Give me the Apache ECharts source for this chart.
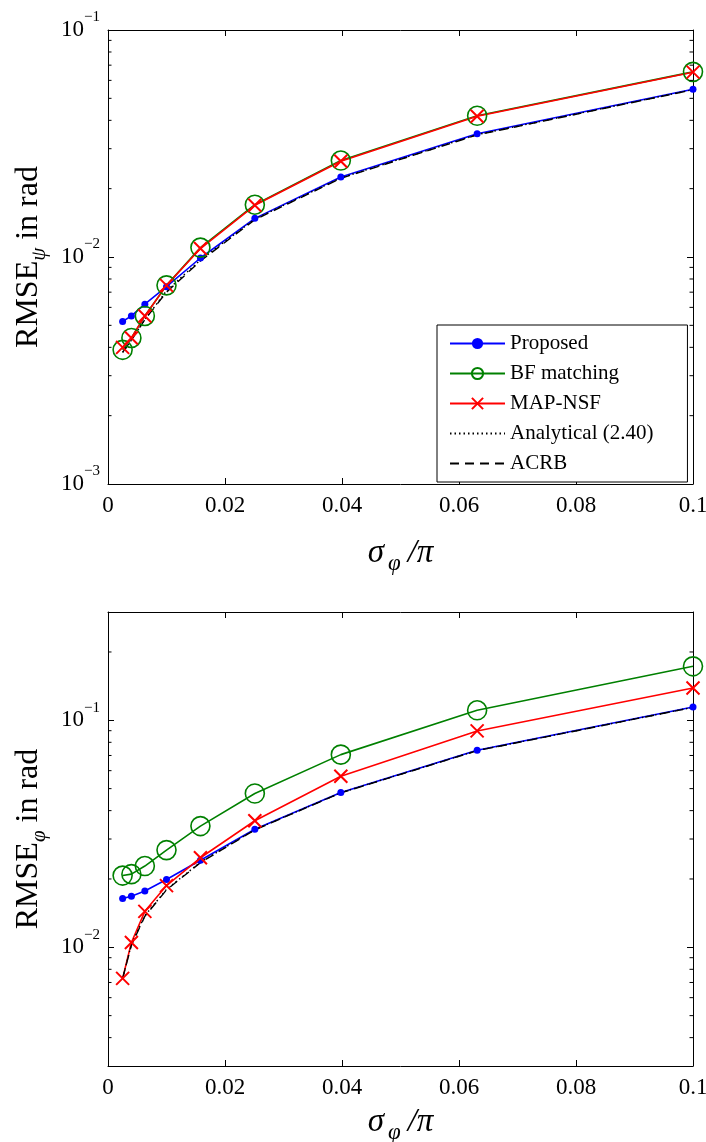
<!DOCTYPE html>
<html>
<head>
<meta charset="utf-8">
<script src="https://cdn.jsdelivr.net/npm/echarts@6/dist/echarts.min.js"></script>
<style>html,body{margin:0;padding:0;background:#fff}#c{width:706px;height:1142px}</style>
</head>
<body>
<div id="c"></div>
<script>
// sigma_phi / pi
const xs = [0.0025, 0.004, 0.0063, 0.01, 0.0158, 0.0251, 0.0398, 0.0631, 0.1];
const xTicks = [0, 0.02, 0.04, 0.06, 0.08, 0.1];
const seriesNames = ['Proposed', 'BF matching', 'MAP-NSF', 'Analytical (2.40)', 'ACRB'];

// top: RMSE_psi
const proposedPsi   = [0.0052, 0.0055, 0.0062, 0.0074, 0.0099, 0.0148, 0.0225, 0.0349, 0.0548];
const bfPsi         = [0.0039, 0.0044, 0.0055, 0.0075, 0.0110, 0.0170, 0.0266, 0.0419, 0.0654];
const mapPsi        = [0.0040, 0.0044, 0.0055, 0.0075, 0.0109, 0.0169, 0.0264, 0.0417, 0.0652];
const analyticalPsi = [0.0038, 0.0043, 0.0053, 0.0071, 0.0097, 0.0147, 0.0223, 0.0346, 0.0546];
const acrbPsi       = [0.0038, 0.0043, 0.0053, 0.0070, 0.0096, 0.0146, 0.0222, 0.0345, 0.0545];

// bottom: RMSE_phi
const proposedPhi   = [0.0164, 0.0168, 0.0177, 0.0199, 0.0242, 0.0331, 0.0481, 0.0738, 0.1144];
const bfPhi         = [0.0207, 0.0210, 0.0228, 0.0268, 0.0342, 0.0476, 0.0706, 0.1107, 0.1729];
const mapPhi        = [0.0073, 0.0105, 0.0144, 0.0187, 0.0248, 0.0361, 0.0567, 0.0898, 0.1387];
const analyticalPhi = [0.0073, 0.0103, 0.0138, 0.0180, 0.0237, 0.0330, 0.0480, 0.0736, 0.1141];
const acrbPhi       = [0.0073, 0.0102, 0.0137, 0.0179, 0.0236, 0.0329, 0.0479, 0.0735, 0.1140];

// y ranges and tick values
const yRangeTop = [0.001, 0.1];
const yRangeBot = [0.003, 0.3];
const minorTop = [0.002,0.003,0.004,0.005,0.006,0.007,0.008,0.009,0.02,0.03,0.04,0.05,0.06,0.07,0.08,0.09];
const minorBot = [0.004,0.005,0.006,0.007,0.008,0.009,0.02,0.03,0.04,0.05,0.06,0.07,0.08,0.09,0.2];

const SERIF = '"Liberation Serif", "Times New Roman", serif';
const pairs = ys => xs.map((x, i) => [x, ys[i]]);

function expLabel(v) {
  const e = Math.round(Math.log10(v));
  if (Math.abs(Math.log10(v) - e) > 1e-6) return '';
  return '{b|10}{s|' + (e < 0 ? '\u2212' + (-e) : e) + '}';
}
const expRich = {
  b: { fontFamily: SERIF, fontSize: 23, color: '#000', lineHeight: 40, verticalAlign: 'middle' },
  s: { fontFamily: SERIF, fontSize: 15, color: '#000', lineHeight: 20, verticalAlign: 'top' }
};
const TICK = { inside: true, length: 6, lineStyle: { color: '#000', width: 1 } };
const LINE = { onZero: false, lineStyle: { color: '#000', width: 1 } };

function xAxes(gi, gap) {
  return [{
    type: 'value', gridIndex: gi, position: 'bottom', min: 0, max: 0.1, interval: 0.02,
    axisLine: LINE, axisTick: TICK,
    axisLabel: { color: '#000', fontFamily: SERIF, fontSize: 23, margin: 10,
                 formatter: v => (Math.round(v * 100) / 100).toString() },
    splitLine: { show: false },
    name: '{i|\u03c3}{s|\u03c6}{i|/\u03c0}', nameLocation: 'middle', nameGap: gap,
    nameTextStyle: { rich: {
      i: { fontFamily: SERIF, fontStyle: 'italic', fontSize: 33, color: '#000', lineHeight: 44, verticalAlign: 'middle', padding: [0, 3, 0, 3] },
      s: { fontFamily: SERIF, fontStyle: 'italic', fontSize: 23, color: '#000', lineHeight: 32, verticalAlign: 'bottom', padding: [0, 4, 0, 1] }
    } }
  }, {
    type: 'value', gridIndex: gi, position: 'top', min: 0, max: 0.1, interval: 0.02,
    axisLine: LINE, axisTick: TICK,
    axisLabel: { show: false }, splitLine: { show: false }
  }];
}
function yAxes(gi, range, sub) {
  return [{
    type: 'log', logBase: 10, gridIndex: gi, position: 'left', min: range[0], max: range[1],
    axisLine: LINE, axisTick: TICK,
    axisLabel: { formatter: expLabel, rich: expRich, margin: 8, showMinLabel: true, showMaxLabel: true },
    splitLine: { show: false },
    name: '{a|RMSE}{s|' + sub + '}{a| in rad}', nameLocation: 'middle', nameGap: 57, nameRotate: 90,
    nameTextStyle: { rich: {
      a: { fontFamily: SERIF, fontSize: 32, color: '#000', lineHeight: 44, verticalAlign: 'middle' },
      s: { fontFamily: SERIF, fontStyle: 'italic', fontSize: 21, color: '#000', lineHeight: 32, verticalAlign: 'bottom' }
    } }
  }, {
    type: 'log', logBase: 10, gridIndex: gi, position: 'right', min: range[0], max: range[1],
    axisLine: LINE, axisTick: TICK,
    axisLabel: { show: false }, splitLine: { show: false }
  }];
}

function minorTickSeries(gi, vals) {
  return {
    type: 'custom', xAxisIndex: gi * 2, yAxisIndex: gi * 2, silent: true, z: 5,
    data: vals.map(v => [0, v]),
    renderItem: (params, api) => {
      const p = api.coord([0, api.value(1)]);
      const cs = params.coordSys;
      const st = { stroke: '#000', lineWidth: 1 };
      return { type: 'group', children: [
        { type: 'line', shape: { x1: cs.x, y1: p[1], x2: cs.x + 3.5, y2: p[1] }, style: st },
        { type: 'line', shape: { x1: cs.x + cs.width - 3.5, y1: p[1], x2: cs.x + cs.width, y2: p[1] }, style: st }
      ] };
    }
  };
}

function dataSeries(gi, sets) {
  const base = { type: 'line', xAxisIndex: gi * 2, yAxisIndex: gi * 2, animation: false, z: 3 };
  const none = { color: 'rgba(0,0,0,0)', borderColor: 'rgba(0,0,0,0)', borderWidth: 0 };
  return [
    Object.assign({}, base, { name: seriesNames[0], data: pairs(sets[0]),
      symbol: 'circle', symbolSize: 7, itemStyle: { color: '#0000ff' },
      lineStyle: { color: '#0000ff', width: 1.6 } }),
    Object.assign({}, base, { name: seriesNames[1], data: pairs(sets[1]),
      symbol: 'circle', symbolSize: 19, itemStyle: { color: 'rgba(0,0,0,0)', borderColor: '#008000', borderWidth: 1.6 },
      lineStyle: { color: '#008000', width: 1.6 } }),
    Object.assign({}, base, { name: seriesNames[2], data: pairs(sets[2]),
      symbol: 'path://M0,0L10,10M10,0L0,10', symbolSize: 13,
      itemStyle: { color: '#ff0000', borderColor: '#ff0000', borderWidth: 2 },
      lineStyle: { color: '#ff0000', width: 1.6 } }),
    Object.assign({}, base, { name: seriesNames[3], data: pairs(sets[3]), showSymbol: false, symbol: 'none',
      itemStyle: none, lineStyle: { color: '#000', width: 1.4, type: [1.5, 3] } }),
    Object.assign({}, base, { name: seriesNames[4], data: pairs(sets[4]), showSymbol: false, symbol: 'none',
      itemStyle: none, lineStyle: { color: '#000', width: 1.4, type: [9, 6] } })
  ];
}

const chart = echarts.init(document.getElementById('c'), null, { renderer: 'canvas' });
chart.setOption({
  animation: false,
  backgroundColor: '#fff',
  grid: [
    { left: 108, top: 30, width: 585, height: 454, outerBoundsMode: 'none', containLabel: false },
    { left: 108, top: 612, width: 585, height: 454, outerBoundsMode: 'none', containLabel: false }
  ],
  xAxis: xAxes(0, 47).concat(xAxes(1, 34)),
  yAxis: yAxes(0, yRangeTop, '\u03c8').concat(yAxes(1, yRangeBot, '\u03c6')),
  legend: {
    data: seriesNames, orient: 'vertical', left: 437, top: 325,
    backgroundColor: '#fff', borderColor: '#000', borderWidth: 1, borderRadius: 0,
    padding: [8, 34, 8, 12], itemGap: 9, itemWidth: 55, itemHeight: 14, itemTextGap: 6,
    textStyle: { fontFamily: SERIF, fontSize: 21, color: '#000', lineHeight: 21 },
    selectedMode: false
  },
  series: [
    minorTickSeries(0, minorTop), minorTickSeries(1, minorBot)
  ].concat(dataSeries(0, [proposedPsi, bfPsi, mapPsi, analyticalPsi, acrbPsi]))
   .concat(dataSeries(1, [proposedPhi, bfPhi, mapPhi, analyticalPhi, acrbPhi]))
});
</script>
</body>
</html>
